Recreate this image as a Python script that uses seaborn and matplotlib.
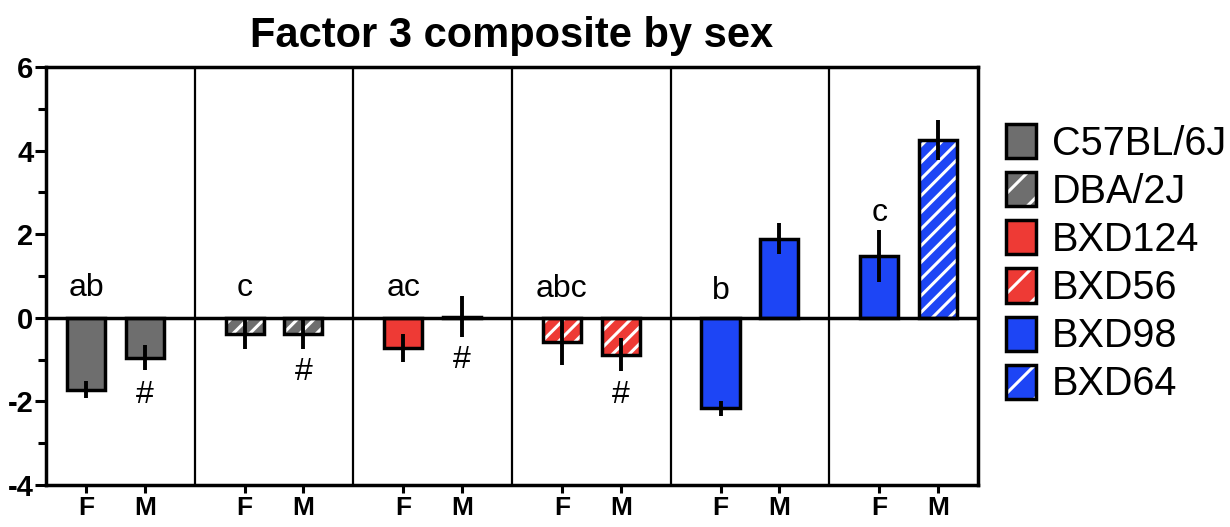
import numpy as np
import pandas as pd
import matplotlib
matplotlib.use("Agg")
import matplotlib.pyplot as plt
from matplotlib.patches import Patch, Rectangle
from matplotlib.ticker import MultipleLocator
import seaborn as sns

# ---- data ----
strains = ["C57BL/6J", "DBA/2J", "BXD124", "BXD56", "BXD98", "BXD64"]
sexes = ["F", "M"]
female_mean = [-1.72, -0.38, -0.72, -0.58, -2.17, 1.48]
male_mean = [-0.96, -0.38, 0.03, -0.88, 1.89, 4.26]
female_sem = [0.20, 0.36, 0.33, 0.54, 0.18, 0.63]
male_sem = [0.30, 0.36, 0.48, 0.40, 0.37, 0.48]
group_letters = ["ab", "c", "ac", "abc", "b", "c"]
letter_y = [0.72, 0.72, 0.72, 0.70, 0.65, 2.50]
sex_diff = [True, True, True, True, False, False]
hash_y = [-1.85, -1.30, -1.00, -1.85, 0, 0]
colors = ["#6e6e6e", "#6e6e6e", "#ee3a35", "#ee3a35", "#1d45f5", "#1d45f5"]
hatched = [False, True, False, True, False, True]

sns.set_style("ticks")
plt.rcParams["font.family"] = ["Liberation Sans", "DejaVu Sans"]
plt.rcParams["hatch.linewidth"] = 2.2
plt.rcParams["axes.unicode_minus"] = False
for key in ["text.color", "axes.labelcolor", "xtick.color", "ytick.color",
            "axes.edgecolor"]:
    plt.rcParams[key] = "black"

period = 2.7
rows = []
for g, s in enumerate(strains):
    for k, sx in enumerate(sexes):
        rows.append(dict(strain=s, sex=sx, pos=g * period + k,
                         value=(female_mean if k == 0 else male_mean)[g],
                         sem=(female_sem if k == 0 else male_sem)[g]))
df = pd.DataFrame(rows)

fig = plt.figure(figsize=(12.3, 5.27), dpi=100)
ax = fig.add_axes([0.0374, 0.0797, 0.7577, 0.7933])

sns.barplot(data=df, x="pos", y="value", hue="strain", hue_order=strains,
            palette=colors, saturation=1, native_scale=True, dodge=False,
            errorbar=None, width=0.65, edgecolor="black", linewidth=2.5,
            legend=False, ax=ax, zorder=2)

# hatch + outlines
bars = [p for p in ax.patches if isinstance(p, Rectangle)]
for p in list(bars):
    xc = p.get_x() + p.get_width() / 2
    g = int(round(xc // period))
    if g < len(strains) and hatched[g]:
        p.set_hatch("//")
        p.set_edgecolor("white")
        p.set_linewidth(0)
        ax.add_patch(Rectangle(p.get_xy(), p.get_width(), p.get_height(),
                               fill=False, ec="black", lw=2.5, zorder=3))

# error bars
ax.errorbar(df["pos"], df["value"], yerr=df["sem"], fmt="none",
            ecolor="black", elinewidth=2.8, capsize=0, zorder=4)

# zero line and dividers
ax.axhline(0, color="black", lw=2.5, zorder=5)
for g in range(len(strains) - 1):
    ax.axvline(g * period + 1 + (period - 1) / 2, color="black", lw=1.6, zorder=1)

# letters
for g in range(len(strains)):
    ax.text(g * period, letter_y[g], group_letters[g], ha="center", va="center",
            fontsize=23)
    if sex_diff[g]:
        ax.text(g * period + 1, hash_y[g], "#", ha="center", va="center",
                fontsize=23)

ax.set_xlim(-0.68, (len(strains) - 1) * period + 1 + 0.68)
ax.set_ylim(-4, 6)
ax.set_xticks(df["pos"])
ax.set_xticklabels(df["sex"], fontsize=19, fontweight="bold")
ax.yaxis.set_major_locator(MultipleLocator(2))
ax.yaxis.set_minor_locator(MultipleLocator(1))
ax.tick_params(axis="y", which="major", labelsize=21, width=2.2, length=8, pad=1)
for lab in ax.get_yticklabels():
    lab.set_fontweight("bold")
ax.tick_params(axis="y", which="minor", width=2.2, length=6)
ax.tick_params(axis="x", width=2.2, length=6, pad=2)
ax.set_xlabel("")
ax.set_ylabel("")
for sp in ax.spines.values():
    sp.set_linewidth(2.5)
    sp.set_visible(True)

ax.set_title("Factor 3 composite by sex", fontsize=30, fontweight="bold", pad=14)

handles = []
for g, s in enumerate(strains):
    if hatched[g]:
        h = (Patch(facecolor=colors[g], hatch="/", edgecolor="white", lw=0),
             Patch(fill=False, edgecolor="black", lw=2.5))
    else:
        h = Patch(facecolor=colors[g], edgecolor="black", lw=2.5)
    handles.append(h)
fig.legend(handles, strains, loc="upper left", bbox_to_anchor=(0.818, 0.765),
           frameon=False, fontsize=28.5, handlelength=0.75, handleheight=0.95,
           handletextpad=0.4, labelspacing=0.24, borderaxespad=0, borderpad=0)

fig.savefig("out.png", dpi=100)
